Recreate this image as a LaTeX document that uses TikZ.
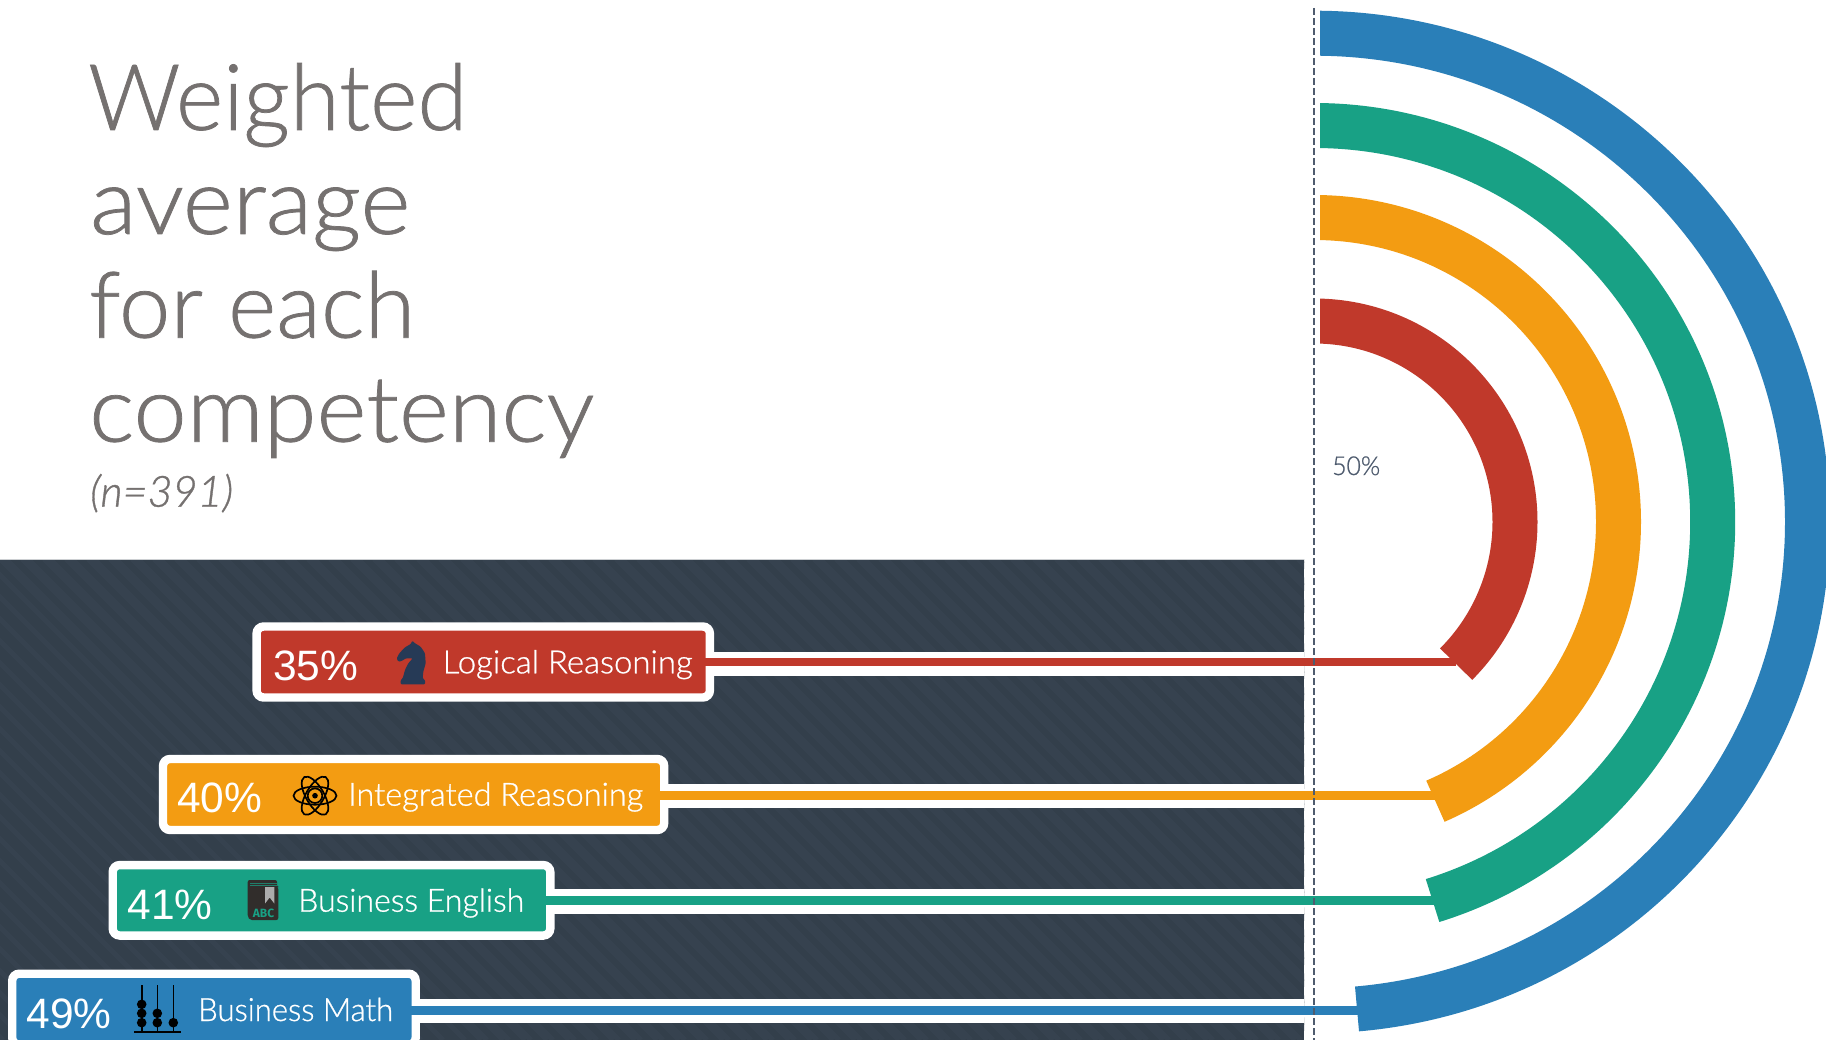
\documentclass[tikz,border=0pt]{standalone}
\usepackage{graphicx}
\usepackage{fontspec}
\setmainfont{Lato}[UprightFont=* Light,ItalicFont=* Light Italic,FakeBold=0.8]
\newfontfamily\thinfont{Lato}[UprightFont=* Light,ItalicFont=* Light Italic]
\newfontfamily\arialfont{Liberation Sans}
\newfontfamily\abcfont{Fira Sans}[UprightFont=* Bold]
\definecolor{cred}{HTML}{C0392B}
\definecolor{corange}{HTML}{F39C12}
\definecolor{cgreen}{HTML}{18A185}
\definecolor{cblue}{HTML}{2A7FB8}
\definecolor{cdark}{HTML}{333F4B}
\definecolor{cstripe}{HTML}{36424F}
\definecolor{ctitle}{HTML}{757170}
\definecolor{cdash}{HTML}{4E5B6E}
\definecolor{cknight}{HTML}{263A56}
\definecolor{cbook}{HTML}{312D2B}
\newcommand{\fitw}[2]{\resizebox{#1pt}{\height}{#2}}
\tikzset{
  x=1pt,y=1pt,
  boxlabel/.style={draw=white,line width=8.4pt,rounded corners=7pt,inner sep=0pt,outer sep=0pt,anchor=west},
  pct/.style={anchor=base west,inner sep=0pt,text=white,font=\arialfont\fontsize{42.5}{42.5}\selectfont},
  lbl/.style={anchor=base west,inner sep=0pt,text=white,font=\fontsize{32}{32}\selectfont},
  head/.style={anchor=base west,inner sep=0pt,text=ctitle,font=\fontsize{92}{92}\selectfont},
  band/.style={draw=white,line width=24.6pt},
  link/.style={line width=8.8pt},
  ring/.style={line width=45pt},
  abrod/.style={line width=1.6pt,black},
  atomorb/.style={draw=black,line width=1.7pt},
}
\begin{document}
\begin{tikzpicture}
\useasboundingbox (0,0) rectangle (1826,-1040);
\fill[white] (0,0) rectangle (1826,-1040);
% dark panel with faint diagonal texture
\begin{scope}
\clip (0,-559) rectangle (1304,-1040);
\fill[cdark] (0,-559) rectangle (1304,-1040);
\foreach \k in {0,22,...,1820}{
  \draw[cstripe,line width=5pt] (\k,-559) -- ++(481,-481);
  \draw[cstripe,line width=5pt] (\k-500,-559) -- ++(481,-481);
}
\draw[white!75!cdark,line width=0.8pt] (0,-559) -- (1304,-559);
\end{scope}
% arcs
\begin{scope}
\clip (1320,0) rectangle (1826,-1040);
\draw[ring,cblue] (1314,-522) ++(0,488.8) arc [start angle=90,end angle=-85,x radius=493.5pt,y radius=488.8pt];
\draw[ring,cgreen] (1314,-522) ++(0,396.5) arc [start angle=90,end angle=-72.7,x radius=398.7pt,y radius=396.5pt];
\draw[ring,corange] (1314,-522) ++(90:304.5pt) arc (90:-66.5:304.5pt);
\draw[ring,cred] (1314,-522) ++(90:201pt) arc (90:-45:201pt);
\end{scope}
% connector ends
\coordinate (ered) at (1456,-662);
\coordinate (eorange) at (1436,-795.8);
\coordinate (egreen) at (1436,-900.3);
\coordinate (eblue) at (1358,-1010.8);
\coordinate (wred) at (1304,-664);
\coordinate (worange) at (1304,-795.8);
\coordinate (wgreen) at (1304,-901.6);
\coordinate (wblue) at (1304,-1010.8);
% boxes
\node[boxlabel,fill=cred,minimum width=453.3pt,minimum height=71pt] (bred) at (256.6,-662) {};
\node[boxlabel,fill=corange,minimum width=501.2pt,minimum height=71pt] (borange) at (163,-794.5) {};
\node[boxlabel,fill=cgreen,minimum width=437.6pt,minimum height=70.5pt] (bgreen) at (112.7,-900.3) {};
\node[boxlabel,fill=cblue,minimum width=403.5pt,minimum height=71pt] (bblue) at (12.2,-1009.2) {};
% white bands behind coloured links
\draw[band] (wred) -- (wred -| bred.east);
\draw[band] (worange) -- (worange -| borange.east);
\draw[band] (wgreen) -- (wgreen -| bgreen.east);
\draw[band] (wblue) -- (wblue -| bblue.east);
% links
\draw[link,cred] ([xshift=-6pt]bred.east) -- (ered);
\draw[link,corange] ([xshift=-6pt]eorange -| borange.east) -- (eorange);
\draw[link,cgreen] (egreen) -- ([xshift=-6pt]egreen -| bgreen.east);
\draw[link,cblue] (eblue) -- ([xshift=-6pt]eblue -| bblue.east);
% dashed 50% line
\coordinate (dtop) at (1313.8,-8);
\coordinate (dbot) at (1313.8,-1040);
\draw[cdash,line width=2pt,dash pattern=on 7pt off 3pt] (dtop) -- (dbot);
\node[anchor=base west,inner sep=0pt,text=cdash,font=\fontsize{26}{26}\selectfont] (fifty) at (1332,-475) {\fitw{48}{50\%}};
% title
\node[head] (t1) at (88,-130) {\fitw{379}{Weighted}};
\node[head] (t2) at (90,-234) {\fitw{320}{average}};
\node[head] (t3) at (89,-337.7) {\fitw{326}{for each}};
\node[head] (t4) at (89,-441.7) {\fitw{505}{competency}};
\node[anchor=base west,inner sep=0pt,text=ctitle,font=\itshape\fontsize{43}{43}\selectfont] (t5) at (90,-506.7) {\fitw{143}{(n=391)}};
% labels
\node[pct] (p1) at (273,-680.7) {35\%};
\node[lbl] (l1) at (442.5,-673.3) {\fitw{250}{Logical Reasoning}};
\node[pct] (p2) at (177,-812.3) {40\%};
\node[lbl] (l2) at (348,-805.7) {\fitw{295}{Integrated Reasoning}};
\node[pct] (p3) at (127.5,-919) {41\%};
\node[lbl] (l3) at (298,-911.7) {\fitw{226}{Business English}};
\node[pct] (p4) at (26.5,-1028) {49\%};
\node[lbl] (l4) at (198,-1021) {\fitw{195}{Business Math}};
% knight icon
\fill[cknight,rounded corners=1pt] (400.7,-684.3) -- (425,-684.3) -- (425,-680) -- (422.7,-678.3) -- (423.3,-671.7) -- (425.7,-663.3) -- (425,-653.3) -- (420.7,-646.7) -- (415,-643.3) -- (412.3,-640.7) -- (410.7,-644) -- (405,-647.3) -- (399.3,-653.3) -- (396.7,-658.3) -- (398.3,-661.7) -- (401.7,-661) -- (406,-658.3) -- (412.7,-658.3) -- (408.3,-663.3) -- (405,-670) -- (402.7,-678.3) -- (400.7,-680) -- cycle;
% atom icon
\coordinate (atomc) at (315,-795.7);
\foreach \r in {0,60,-60}{\draw[atomorb,rotate around={\r:(atomc)}] (atomc) ellipse [x radius=21.5pt,y radius=9pt];}
\draw[atomorb] (atomc) circle (7.3pt);
\fill[black] (atomc) circle (2.8pt);
% book icon
\fill[cbook,rounded corners=2pt] (247.7,-880) -- (277,-880) -- (277,-887) -- (278.3,-887) -- (278.3,-920) -- (250,-920) -- (247.7,-917) -- cycle;
\draw[cgreen!70!cbook,line width=0.9pt] (250,-883.3) -- (277,-883.3) (250,-885.8) -- (277,-885.8);
\fill[gray!65!white] (265,-887) -- (274.3,-887) -- (274.3,-903.5) -- (269.7,-897.5) -- (265,-903.5) -- cycle;
\node[anchor=base,inner sep=0pt,text=cgreen,font=\abcfont\fontsize{12}{12}\selectfont] (abc) at (263.5,-917.5) {ABC};
% abacus icon
\draw[abrod] (141.7,-985) -- (141.7,-1032);
\draw[abrod] (157.3,-985) -- (157.3,-1032);
\draw[abrod] (173.3,-985) -- (173.3,-1032);
\draw[black,line width=1.9pt] (134,-1032) -- (181,-1032);
\foreach \p in {(141.7,-1004.3),(141.7,-1013.3),(141.7,-1022.7),(157.3,-1013.3),(157.3,-1022.7),(173.3,-1022.7)}{\fill[black] \p circle (4.8pt);}
\end{tikzpicture}
\end{document}
